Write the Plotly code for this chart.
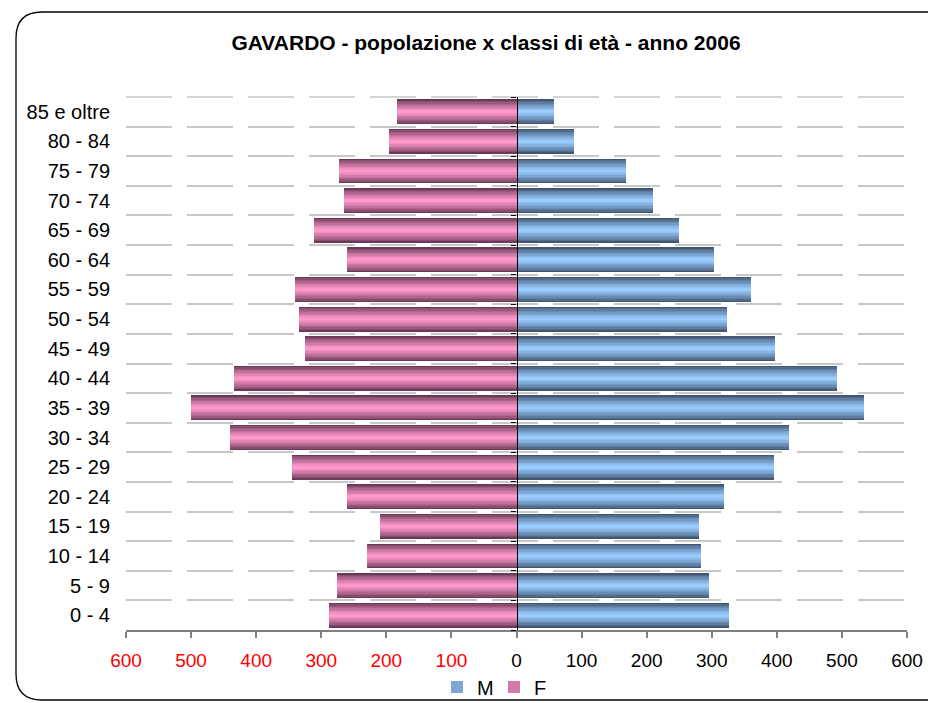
import plotly.graph_objects as go

categories = ["0 - 4", "5 - 9", "10 - 14", "15 - 19", "20 - 24", "25 - 29", "30 - 34",
              "35 - 39", "40 - 44", "45 - 49", "50 - 54", "55 - 59", "60 - 64",
              "65 - 69", "70 - 74", "75 - 79", "80 - 84", "85 e oltre"]
males = [327, 295, 284, 281, 319, 396, 419, 534, 493, 397, 324, 361, 304, 249, 210, 169, 89, 57]
females = [288, 276, 230, 209, 261, 345, 440, 500, 434, 325, 334, 341, 261, 311, 265, 272, 196, 183]
tick_values = [-600, -500, -400, -300, -200, -100, 0, 100, 200, 300, 400, 500, 600]

title_text = "GAVARDO - popolazione x classi di età - anno 2006"

def mix(c1, c2, t):
    return "rgb(%d,%d,%d)" % tuple(round(a + (b - a) * t) for a, b in zip(c1, c2))

M_DARK, M_LIGHT = (66, 86, 114), (153, 204, 255)
F_DARK, F_LIGHT = (108, 58, 88), (255, 153, 204)

# page offset (browser body margin) compensation
OFF = 8
W, H = 936 - OFF, 703 - OFF
L, R, T, B = 126 - OFF, 907 - OFF, 97 - OFF, 630 - OFF
PW, PH = R - L, B - T

fig = go.Figure()
N = 9
BW = 0.84
for name, vals, dark, light, yax in [("M", males, M_DARK, M_LIGHT, "y2"),
                                     ("F", [-v for v in females], F_DARK, F_LIGHT, "y")]:
    for i in range(N):
        t = i / (N - 1)
        w = BW * (1 - i / N)
        fig.add_trace(go.Bar(
            x=vals, y=categories, orientation="h", width=w, yaxis=yax,
            marker=dict(color=mix(dark, light, t ** 0.8), line=dict(width=0)),
            name=name, legendgroup=name, showlegend=(i == 5),
            hoverinfo="skip" if i else None,
        ))

ticktext = []
for v in tick_values:
    if v < 0:
        ticktext.append('<span style="color:#ff0000">%d</span>' % abs(v))
    else:
        ticktext.append(str(v))

def px(x):
    return (x - OFF - L) / PW
def py(y):
    return (B - (y - OFF)) / PH
x0, x1, y0, y1, r = 16, 960, 12, 700, 26
path = (f"M {px(x0)},{py(y0 + r)} Q {px(x0)},{py(y0)} {px(x0 + r)},{py(y0)} "
        f"L {px(x1 - r)},{py(y0)} Q {px(x1)},{py(y0)} {px(x1)},{py(y0 + r)} "
        f"L {px(x1)},{py(y1 - r)} Q {px(x1)},{py(y1)} {px(x1 - r)},{py(y1)} "
        f"L {px(x0 + r)},{py(y1)} Q {px(x0)},{py(y1)} {px(x0)},{py(y1 - r)} Z")

GRID = "#c8c8c8"
DASH = "46px,15px"
yrange = [-0.5, 17.5]
fig.update_layout(
    width=W, height=H,
    margin=dict(l=L, r=W - R, t=T, b=H - B, autoexpand=False),
    paper_bgcolor="white", plot_bgcolor="white",
    barmode="overlay", bargap=0,
    font=dict(family="Liberation Sans, Arial, sans-serif", color="black"),
    title=dict(text="<b>%s</b>" % title_text, x=(486 - OFF) / W, xref="container",
               xanchor="center", y=1 - (43 - OFF) / H, yref="container", yanchor="middle",
               font=dict(size=21, color="black")),
    xaxis=dict(range=[-600, 600], tickvals=tick_values, ticktext=ticktext,
               showgrid=False, zeroline=False, automargin=False,
               showline=True, linecolor="#808080", linewidth=1.5,
               ticks="outside", ticklen=6, tickcolor="#808080", tickwidth=1.5,
               tickfont=dict(size=19), ticklabelstandoff=6),
    yaxis=dict(type="category", categoryorder="array", categoryarray=categories,
               range=yrange, tickson="boundaries", showgrid=True, automargin=False,
               gridcolor=GRID, gridwidth=1.5, griddash=DASH,
               ticks="", showline=False, tickfont=dict(size=20), ticklabelstandoff=15),
    yaxis2=dict(type="category", categoryorder="array", categoryarray=categories,
                range=yrange, overlaying="y", anchor="free", position=0.5,
                side="left", tickson="boundaries", ticks="outside", ticklen=5,
                tickcolor="black", tickwidth=1.3, showticklabels=False, showgrid=False,
                showline=True, linecolor="black", linewidth=1.3, zeroline=False),
    legend=dict(orientation="h", x=(494 - OFF - L) / PW, xanchor="center",
                y=(B - (687 - OFF)) / PH,
                yanchor="middle", bgcolor="rgba(0,0,0,0)",
                font=dict(size=20), itemwidth=30, entrywidth=12, traceorder="normal"),
    shapes=[dict(type="path", xref="paper", yref="paper", path=path,
                 line=dict(color="black", width=1.3), layer="below"),
            dict(type="line", xref="paper", yref="paper", x0=0, x1=1, y0=1, y1=1,
                 line=dict(color=GRID, width=1.5, dash=DASH), layer="below")],
)

fig.write_html("out.html")
